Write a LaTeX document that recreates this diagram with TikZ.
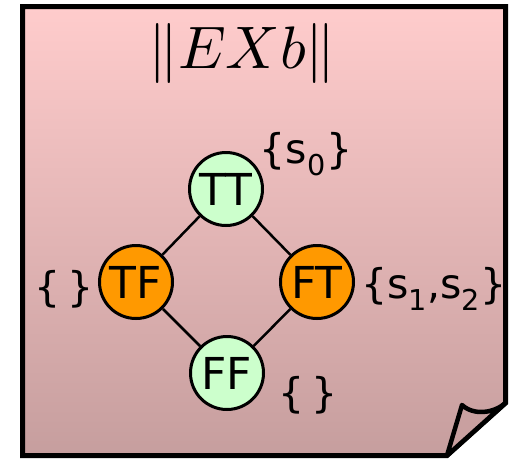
\documentclass[tikz,border=0pt]{standalone}
\usepackage{fontspec}
\usepackage{tikz}
\newfontfamily\notefont{DejaVu Sans}
\definecolor{notetop}{RGB}{255,204,204}
\definecolor{notebot}{RGB}{198,158,158}
\definecolor{latgreen}{RGB}{204,255,204}
\definecolor{latorange}{RGB}{255,153,0}

\begin{document}
\begin{tikzpicture}[x=1pt,y=-1pt,
  every node/.style={font=\notefont\fontsize{44}{48}\selectfont},
  elem/.style={circle,draw,line width=3pt,minimum size=73pt,inner sep=0pt},
  lbl/.style={inner sep=0pt,font=\notefont\fontsize{41}{45}\selectfont}]
\useasboundingbox (0,0) rectangle (514,459);
% the note
\shade[top color=notetop,bottom color=notebot,draw=black,line width=5pt]
  (22.5,6.5) -- (505.5,6.5) -- (505.5,403) -- (447,455.5) -- (22.5,455.5) -- cycle;
\filldraw[fill=notebot!95!notetop,line width=4.5pt,line join=round]
  (462,405) .. controls (474,416) and (494,413) .. (505.5,403) -- (447,455.5) -- cycle;
\node[inner sep=0pt,font=\normalsize,scale=6] (title) at (242,53) {$\|EXb\|$};
% lattice
\node[elem,fill=latgreen] (tt) at (226,189) {TT};
\node[elem,fill=latorange] (tf) at (136,282) {TF};
\node[elem,fill=latorange] (ft) at (317,282) {FT};
\node[elem,fill=latgreen] (ff) at (227,373) {FF};
\draw[line width=2.5pt] (tt) -- (tf);
\draw[line width=2.5pt] (tt) -- (ft);
\draw[line width=2.5pt] (tf) -- (ff);
\draw[line width=2.5pt] (ft) -- (ff);
% sets
\node[lbl] (ltt) at (306,154) {\{s\textsubscript{0}\}};
\node[lbl,anchor=east] (ltf) at (94,289) {\{\,\}};
\node[lbl,anchor=west] (lft) at (361,289) {\{s\textsubscript{1},s\textsubscript{2}\}};
\node[lbl] (lff) at (308,395) {\{\,\}};
\end{tikzpicture}
\end{document}
